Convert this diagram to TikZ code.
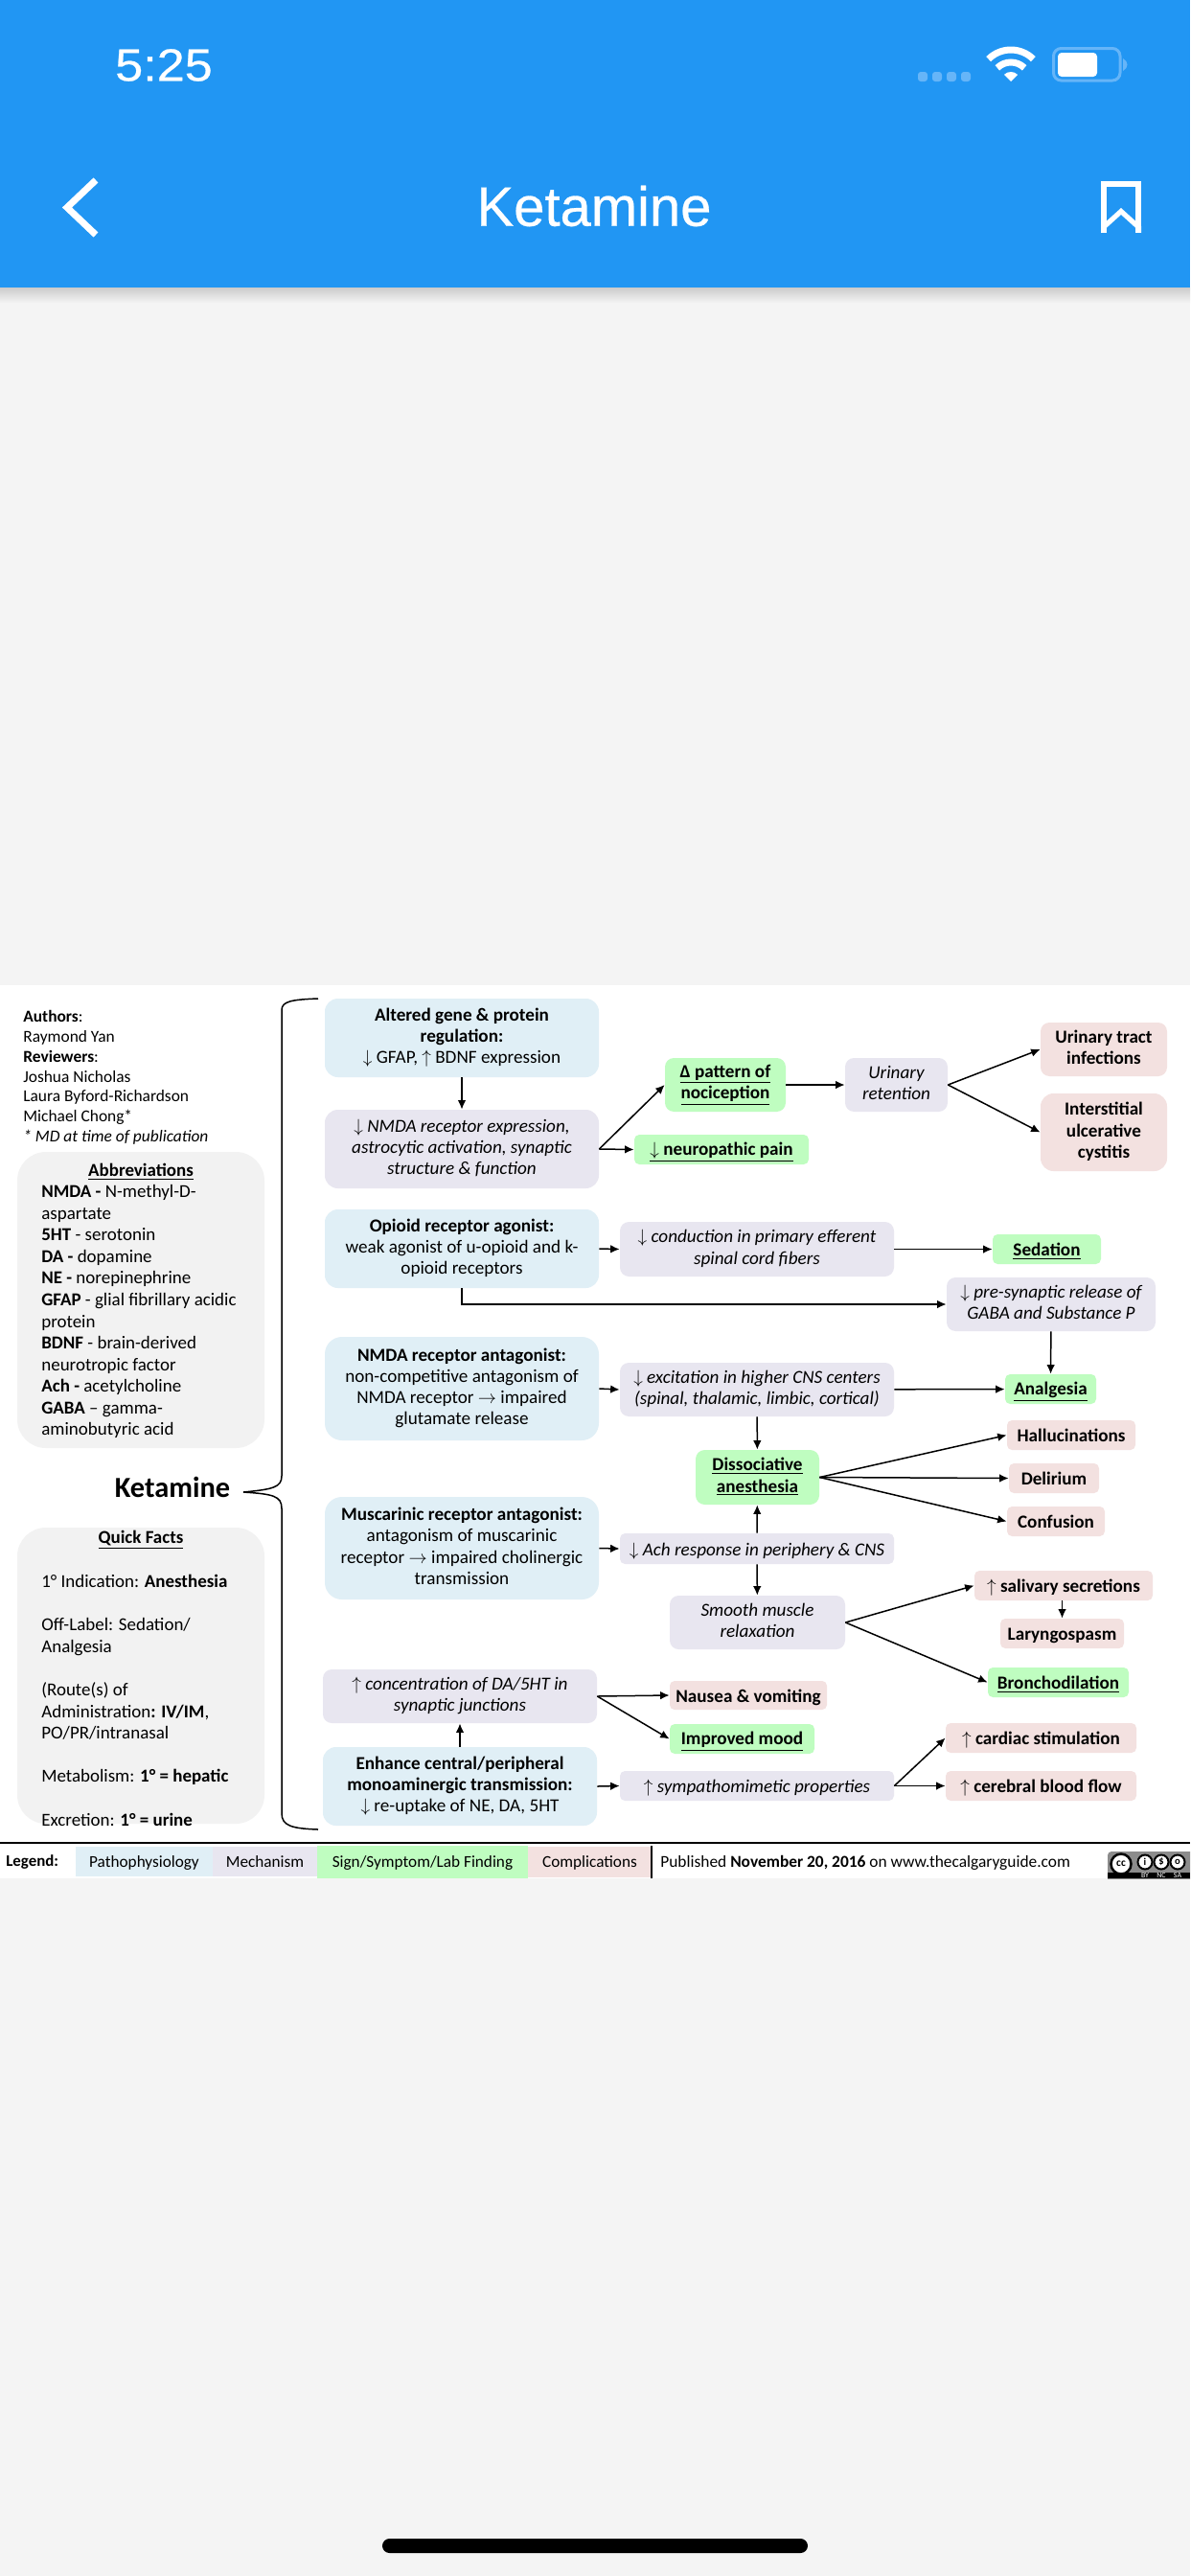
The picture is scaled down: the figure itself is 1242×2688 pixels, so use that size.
\documentclass[tikz,border=0pt]{standalone}
\usepackage{fontspec}
\setmainfont{Carlito}
\newfontfamily\statusfont[FakeBold=0.5]{Liberation Sans}
\usetikzlibrary{arrows.meta}
\newcommand{\dnar}{$\downarrow$}
\newcommand{\upar}{$\uparrow$}
\newcommand{\rgar}{$\rightarrow$}
\definecolor{headblue}{HTML}{2196F3}
\definecolor{pillblue}{HTML}{66B5F8}
\definecolor{pagegray}{HTML}{F4F4F4}
\definecolor{sidegray}{HTML}{F2F2F2}
\definecolor{pathcol}{HTML}{E0EFF6}
\definecolor{mechcol}{HTML}{E8E6F0}
\definecolor{signcol}{HTML}{BFFDC0}
\definecolor{compcol}{HTML}{F3E1E0}
\begin{document}
\begin{tikzpicture}[x=0.02cm,y=-0.02cm]
	\tikzstyle{every node}+=[inner sep=0pt]
	\tikzset{boxsize/.style 2 args={minimum width=#1*0.02cm,minimum height=#2*0.02cm,rounded corners={min(#1,#2)/6*0.02cm}}}
	\tikzstyle{textbox}=[align=center,font=\fontsize{10.9}{12.6}\selectfont,execute at begin node={\rule{0pt}{11pt}},execute at end node={\rule[-2.5pt]{0pt}{0pt}}]
	\tikzstyle{pathbox}=[textbox,fill=pathcol]
	\tikzstyle{mechbox}=[textbox,fill=mechcol,font=\fontsize{10.9}{12.6}\selectfont\itshape]
	\tikzstyle{signbox}=[textbox,fill=signcol,font=\fontsize{10.9}{12.6}\selectfont\bfseries]
	\tikzstyle{compbox}=[textbox,fill=compcol,font=\fontsize{10.9}{12.6}\selectfont\bfseries]
	\tikzstyle{sidebox}=[fill=sidegray,rounded corners=0.6cm,minimum width=258*0.02cm]
	\tikzstyle{sidetext}=[align=left,anchor=north west,font=\fontsize{10.8}{12.85}\selectfont]
	\tikzstyle{legendbox}=[font=\fontsize{9.8}{11}\selectfont,execute at begin node={\rule{0pt}{9pt}},execute at end node={\rule[-2.5pt]{0pt}{0pt}}]
	\tikzstyle{arrow}=[black,line width=0.03cm,-{Latex[length=0.19cm,width=0.17cm]}]
	\useasboundingbox (0,0) rectangle (1242,2688);
	\fill [pagegray] (0,0) rectangle (1242,2688);
	\shade [top color=black!20,bottom color=pagegray] (0,300) rectangle (1242,316);
	\fill [headblue] (0,0) rectangle (1242,300);
	\fill [white] (0,1028) rectangle (1242,1960);
	\node [white,font=\statusfont\fontsize{27}{27}\selectfont,xscale=1.1] (clock) at (171,68) {5:25};
	\node [white,font=\statusfont\fontsize{33}{33}\selectfont] (title) at (620,215) {Ketamine};
	\foreach \pillx in {958,973,988,1003}
		\fill [pillblue,rounded corners=0.06cm] (\pillx,75) rectangle ++(10,10);
	\coordinate (wifi) at (1055,85);
	\draw [white,line width=0.14cm] ([shift={(-135:33)}]wifi) arc (-135:-45:33);
	\draw [white,line width=0.14cm] ([shift={(-135:20)}]wifi) arc (-135:-45:20);
	\fill [white] (wifi) -- ([shift={(-135:10)}]wifi) arc (-135:-45:10) -- cycle;
	\draw [pillblue,line width=0.06cm,rounded corners=0.16cm] (1099.5,50.5) rectangle (1169,84);
	\fill [white,rounded corners=0.08cm] (1104,55) rectangle (1145,80);
	\fill [pillblue] (1172,61) .. controls (1178,64) and (1178,71) .. (1172,74) -- cycle;
	\draw [white,line width=0.14cm,miter limit=8] (100,188) -- (70,216.5) -- (100,245);
	\draw [white,line width=0.11cm] (1152,243) -- (1152,192) -- (1188,192) -- (1188,243);
	\fill [white] (1149,243) -- (1170,224) -- (1191,243) -- (1191,236) -- (1170,217) -- (1149,236) -- cycle;
	\fill [black,rounded corners=0.15cm] (399,2649) rectangle (843,2664);
	\coordinate (bracetop) at (332,1042);
	\coordinate (bracetip) at (254,1557);
	\coordinate (bracebot) at (332,1909);
	\node [font=\fontsize{17.3}{20}\selectfont\bfseries] (ketamine) at (180,1552) {Ketamine};
	\draw [black,line width=0.03cm] (bracetop) .. controls (304,1043) and (294,1045) .. (294,1054) -- (294,1540) .. controls (294,1552) and (285,1554) .. (bracetip) .. controls (285,1559) and (294,1561) .. (294,1574) -- (294,1892) .. controls (294,1905) and (304,1908) .. (bracebot);
	\node [sidetext,font=\fontsize{9.9}{11.85}\selectfont] (authors) at (24,1054) {\textbf{Authors}:\\Raymond Yan\\\textbf{Reviewers}:\\Joshua Nicholas\\Laura Byford-Richardson\\Michael Chong*\\\textit{* MD at time of publication}};
	\node [sidebox,minimum height=309*0.02cm] (abbrevbox) at (147,1356.5) {};
	\node [sidetext] (abbrev) at (43,1236) {\textbf{NMDA -} N-methyl-D-\\aspartate\\\textbf{5HT} - serotonin\\\textbf{DA -} dopamine\\\textbf{NE -} norepinephrine\\\textbf{GFAP} - glial fibrillary acidic\\protein\\\textbf{BDNF} - brain-derived\\neurotropic factor\\\textbf{Ach -} acetylcholine\\\textbf{GABA} -- gamma-\\aminobutyric acid};
	\node [sidebox,minimum height=309*0.02cm] (factsbox) at (147,1748.5) {};
	\node [sidetext] (facts) at (43,1643) {1° Indication: \textbf{Anesthesia}\\~\\Off-Label: Sedation/\\Analgesia\\~\\(Route(s) of\\Administration\textbf{: IV/IM},\\PO/PR/intranasal\\~\\Metabolism: \textbf{1° = hepatic}\\~\\Excretion: \textbf{1° = urine}};
	\node [font=\fontsize{10.8}{12}\selectfont\bfseries] (abbrevtitle) at (147,1223) {\underline{Abbreviations}};
	\node [font=\fontsize{10.8}{12}\selectfont\bfseries] (factstitle) at (147,1607) {\underline{Quick Facts}};
	\node [pathbox,boxsize={286}{82}] (altered) at (482,1083) {\textbf{Altered gene \& protein}\\\textbf{regulation:}\\\dnar{} GFAP, \upar{} BDNF expression};
	\node [mechbox,boxsize={286}{82}] (nmdaexpr) at (482,1199) {\dnar{} NMDA receptor expression,\\astrocytic activation, synaptic\\structure \& function};
	\node [signbox,boxsize={126}{56}] (pattern) at (757,1132) {\underline{Δ pattern of}\\\underline{nociception}};
	\node [signbox,boxsize={182}{31}] (neuropain) at (753,1199.5) {\underline{\dnar{} neuropathic pain}};
	\node [mechbox,boxsize={107}{56}] (urinary) at (935.5,1132) {Urinary\\retention};
	\node [compbox,boxsize={132}{56}] (uti) at (1152,1095) {Urinary tract\\infections};
	\node [compbox,boxsize={132}{81}] (cystitis) at (1152,1181.5) {Interstitial\\ulcerative\\cystitis};
	\node [pathbox,boxsize={286}{82}] (opioid) at (482,1303) {\textbf{Opioid receptor agonist:}\\weak agonist of u-opioid and k-\\opioid receptors};
	\node [mechbox,boxsize={286}{57}] (conduction) at (790,1303.5) {\dnar{} conduction in primary efferent\\spinal cord fibers};
	\node [signbox,boxsize={113}{31}] (sedation) at (1092.5,1303.5) {\underline{Sedation}};
	\node [mechbox,boxsize={218}{56}] (presyn) at (1097,1361) {\dnar{} pre-synaptic release of\\GABA and Substance P};
	\node [pathbox,boxsize={286}{108}] (nmdaant) at (482,1449) {\textbf{NMDA receptor antagonist:}\\non-competitive antagonism of\\NMDA receptor \rgar{} impaired\\glutamate release};
	\node [mechbox,boxsize={286}{56}] (excitation) at (790,1450) {\dnar{} excitation in higher CNS centers\\(spinal, thalamic, limbic, cortical)};
	\node [signbox,boxsize={95}{31}] (analgesia) at (1096.5,1449.5) {\underline{Analgesia}};
	\node [signbox,boxsize={129}{57}] (dissoc) at (790.5,1541.5) {\underline{Dissociative}\\\underline{anesthesia}};
	\node [compbox,boxsize={134}{31}] (halluc) at (1118,1497.5) {Hallucinations};
	\node [compbox,boxsize={94}{31}] (delirium) at (1100,1542.5) {Delirium};
	\node [compbox,boxsize={102}{31}] (confusion) at (1102,1587.5) {Confusion};
	\node [pathbox,boxsize={286}{107}] (muscarinic) at (482,1615.5) {\textbf{Muscarinic receptor antagonist:}\\antagonism of muscarinic\\receptor \rgar{} impaired cholinergic\\transmission};
	\node [mechbox,boxsize={286}{32}] (achresp) at (790,1616) {\dnar{} Ach response in periphery \& CNS};
	\node [mechbox,boxsize={183}{56}] (smooth) at (790.5,1693) {Smooth muscle\\relaxation};
	\node [compbox,boxsize={186}{31}] (salivary) at (1110,1654.5) {\upar{} salivary secretions};
	\node [compbox,boxsize={129}{31}] (laryngo) at (1108.5,1704.5) {Laryngospasm};
	\node [signbox,boxsize={147}{31}] (broncho) at (1104.5,1755.5) {\underline{Bronchodilation}};
	\node [mechbox,boxsize={286}{56}] (concen) at (480,1770) {\upar{} concentration of DA/5HT in\\synaptic junctions};
	\node [compbox,boxsize={164}{30}] (nausea) at (781,1769) {Nausea \& vomiting};
	\node [signbox,boxsize={151}{31}] (mood) at (774.5,1814.5) {\underline{Improved mood}};
	\node [pathbox,boxsize={286}{82}] (enhance) at (480,1864) {\textbf{Enhance central/peripheral}\\\textbf{monoaminergic transmission:}\\\dnar{} re-uptake of NE, DA, 5HT};
	\node [mechbox,boxsize={286}{31}] (sympath) at (790,1863.5) {\upar{} sympathomimetic properties};
	\node [compbox,boxsize={199}{31}] (cardiac) at (1086.5,1813.5) {\upar{} cardiac stimulation};
	\node [compbox,boxsize={199}{31}] (cerebral) at (1086.5,1863.5) {\upar{} cerebral blood flow};
	\draw [arrow] (altered) -- (nmdaexpr);
	\draw [arrow] (nmdaexpr.east) -- (pattern.west);
	\draw [arrow] (nmdaexpr.east) -- (neuropain.west);
	\draw [arrow] (pattern) -- (urinary);
	\draw [arrow] (urinary.east) -- (uti.west);
	\draw [arrow] (urinary.east) -- (cystitis.west);
	\draw [arrow] (opioid.east) -- (conduction.west);
	\draw [arrow] (conduction) -- (sedation);
	\draw [arrow] (opioid.south) |- (presyn.west);
	\draw [arrow] (presyn) -- (analgesia);
	\draw [arrow] (nmdaant.east) -- (excitation.west);
	\draw [arrow] (excitation) -- (analgesia);
	\draw [arrow] (excitation) -- (dissoc);
	\draw [arrow] (achresp) -- (dissoc);
	\draw [arrow] (achresp) -- (smooth);
	\draw [arrow] (muscarinic.east) -- (achresp.west);
	\draw [arrow] (dissoc.east) -- (halluc.west);
	\draw [arrow] (dissoc.east) -- (delirium.west);
	\draw [arrow] (dissoc.east) -- (confusion.west);
	\draw [arrow] (smooth.east) -- (salivary.west);
	\draw [arrow] (smooth.east) -- (broncho.west);
	\draw [arrow] (salivary.south -| laryngo) -- (laryngo);
	\draw [arrow] (concen.east) -- (nausea.west);
	\draw [arrow] (concen.east) -- (mood.west);
	\draw [arrow] (enhance) -- (concen);
	\draw [arrow] (enhance.east) -- (sympath.west);
	\draw [arrow] (sympath.east) -- (cardiac.west);
	\draw [arrow] (sympath.east) -- (cerebral.west);
	\draw [black,line width=0.04cm] (0,1923) -- (1242,1923);
	\node [anchor=west,font=\fontsize{9.6}{11}\selectfont\bfseries] (legend) at (6,1943) {Legend:};
	\node [legendbox,fill=pathcol,minimum width=143*0.02cm,minimum height=31*0.02cm] (legpath) at (150.5,1942.5) {Pathophysiology};
	\node [legendbox,fill=mechcol,minimum width=109*0.02cm,minimum height=31*0.02cm] (legmech) at (276.5,1942.5) {Mechanism};
	\node [legendbox,fill=signcol,minimum width=220*0.02cm,minimum height=34*0.02cm] (legsign) at (441,1943) {Sign/Symptom/Lab Finding};
	\node [legendbox,fill=compcol,minimum width=129*0.02cm,minimum height=32*0.02cm] (legcomp) at (615.5,1943) {Complications};
	\draw [black,line width=0.03cm] (680,1926) -- (680,1960);
	\node [legendbox,anchor=west,font=\fontsize{9.9}{11}\selectfont] (published) at (689,1943) {Published \textbf{November 20, 2016} on www.thecalgaryguide.com};
	\begin{scope}
		\clip (1156,1932) rectangle (1242,1960);
		\fill [black!45,rounded corners=0.08cm] (1156,1932) rectangle (1250,1970);
		\fill [black] (1156,1954) rectangle (1242,1960);
		\draw [black,fill=white,line width=0.05cm] (1170,1945) circle (10.5);
		\node [font=\fontsize{6.5}{7}\selectfont\bfseries] (cclogo) at (1170,1945) {cc};
		\foreach \iconx/\icontext in {1195/i,1212/\$,1229/o}
			\draw [black,fill=white,line width=0.04cm] (\iconx,1943) circle (7.5) node [font=\fontsize{6}{6}\selectfont\bfseries] {\icontext};
		\node [white,font=\fontsize{4.5}{5}\selectfont] (ccby) at (1195,1957) {BY};
		\node [white,font=\fontsize{4.5}{5}\selectfont] (ccnc) at (1212,1957) {NC};
		\node [white,font=\fontsize{4.5}{5}\selectfont] (ccsa) at (1229,1957) {SA};
	\end{scope}
\end{tikzpicture}
\end{document}
